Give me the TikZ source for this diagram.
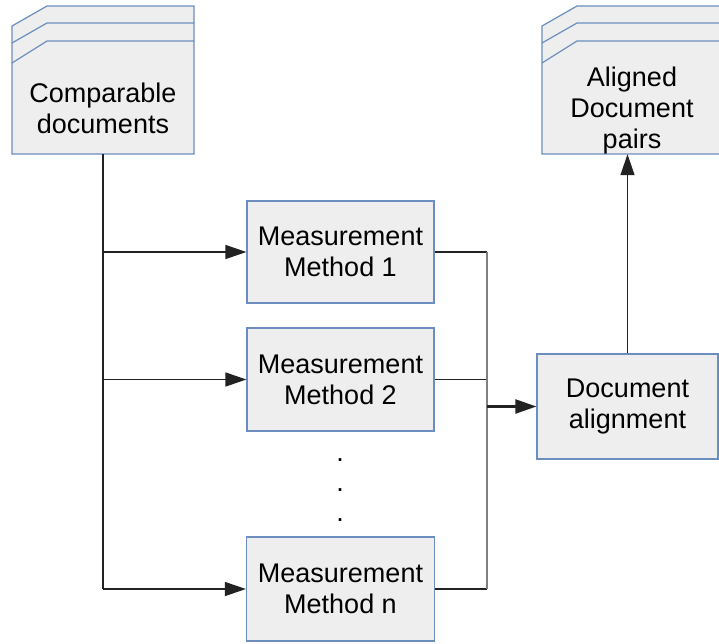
\documentclass[tikz,border=0pt]{standalone}
\usepackage{fontspec}
\setmainfont{Liberation Sans}
\usetikzlibrary{arrows.meta}
\definecolor{bordblue}{HTML}{6C8EBF}
\definecolor{boxfill}{HTML}{EEEEEE}
\definecolor{lnk}{HTML}{222222}
\definecolor{coll}{HTML}{7F7F7F}
\begin{document}
\begin{tikzpicture}[x=1pt,y=-1pt,
  box/.style={draw=bordblue,fill=boxfill,line width=1.2pt,rectangle,inner sep=0pt,
    font=\fontsize{27}{31}\selectfont,align=center},
  lbl/.style={font=\fontsize{27}{31}\selectfont,align=center,inner sep=0pt},
  anchorbox/.style={rectangle,inner sep=0pt,draw=none},
  link/.style={draw=lnk,line width=1.3pt},
  tipst/.style={-{Triangle[length=21pt,width=14pt]}},
  arr/.style={link,tipst},
  stackline/.style={draw=bordblue,line width=1.2pt}]
\useasboundingbox (0,0) rectangle (719,643);
% Comparable documents stack
\path[stackline,fill=boxfill] (12,26) -- (47,6) -- (194,6) -- (194,154) -- (12,154) -- cycle;
\path[stackline] (12,43) -- (47,23) -- (194,23);
\path[stackline] (12,63) -- (47,41) -- (194,41);
\node[anchorbox,minimum width=182pt,minimum height=113pt] (comp) at (103,97.5) {};
\node[lbl] (comptext) at (103,108) {Comparable\\documents};
% Aligned document pairs stack
\path[stackline,fill=boxfill] (542,26) -- (577,6) -- (722,6) -- (722,154) -- (542,154) -- cycle;
\path[stackline] (542,43) -- (577,23) -- (722,23);
\path[stackline] (542,63) -- (577,41) -- (722,41);
\node[anchorbox,minimum width=180pt,minimum height=113pt] (align) at (632,97.5) {};
\node[lbl] (aligntext) at (632,110.5) {Aligned\\Document\\pairs};
% Measurement methods
\node[box,minimum width=187pt,minimum height=102pt] (m1) at (340.5,252) {Measurement\\Method 1};
\node[box,minimum width=187pt,minimum height=103pt] (m2) at (340.5,379.5) {Measurement\\Method 2};
\node[box,minimum width=188pt,minimum height=104pt] (mn) at (340.5,589) {Measurement\\Method n};
% Document alignment
\node[box,minimum width=181pt,minimum height=105pt] (da) at (627.5,406.5) {Document\\alignment};
% dots
\node[lbl] (d1) at (340,460) {.};
\node[lbl] (d2) at (340,490) {.};
\node[lbl] (d3) at (340,520) {.};
% trunk from comparable documents
\coordinate (tb) at (comp.south |- mn.west);
\draw[link] (comp.south) -- (tb);
\draw[arr] (comp.south |- m1.west) -- (m1.west);
\draw[arr] (comp.south |- m2.west) -- (m2.west);
\draw[arr] (tb) -- (mn.west);
% collectors
\coordinate (c1) at (487,252);
\coordinate (cn) at (487,589);
\coordinate (cm) at (487,406.5);
\draw[link] (m1.east) -- (c1);
\draw[link] (m2.east) -- (487,379.5);
\draw[link] (mn.east) -- (cn);
\draw[draw=coll,line width=1.8pt] (c1) -- (cn);
\draw[draw=lnk,line width=2.2pt,tipst] (cm) -- (da.west);
% to aligned
\draw[arr] (da.north) -- (da.north |- align.south);
\end{tikzpicture}
\end{document}
